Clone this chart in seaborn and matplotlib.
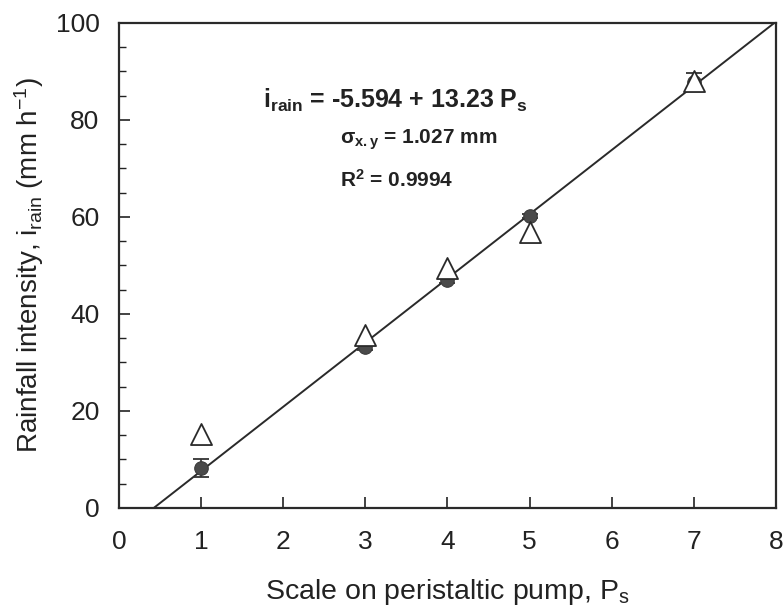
import numpy as np
import pandas as pd
import seaborn as sns
import matplotlib.pyplot as plt
from matplotlib.ticker import MultipleLocator

sns.set_theme(style="ticks")
plt.rcParams['font.family'] = ['Liberation Sans', 'DejaVu Sans']
plt.rcParams['mathtext.fontset'] = 'custom'
plt.rcParams['mathtext.rm'] = 'Liberation Sans'
plt.rcParams['mathtext.it'] = 'Liberation Sans'
plt.rcParams['mathtext.bf'] = 'Liberation Sans:bold'

scale_circle = [1, 3, 4, 5, 7]
rain_circle = [8.2, 33.2, 47.0, 60.2, 87.9]
err_circle = [1.9, 0.6, 0.6, 0.5, 1.8]
scale_tri = [1, 3, 4, 5, 7]
rain_tri = [15.2, 35.6, 49.5, 56.8, 88.0]
intercept = -5.594
slope = 13.23
fit_x = [-intercept / slope, 8.0]

df_c = pd.DataFrame({"x": scale_circle, "y": rain_circle})
df_t = pd.DataFrame({"x": scale_tri, "y": rain_tri})
df_fit = pd.DataFrame({"x": fit_x, "y": [intercept + slope * v for v in fit_x]})

fig = plt.figure(figsize=(7.83, 6.11), dpi=100)
ax = fig.add_axes([0.152, 0.1686, 0.839, 0.794])

sns.lineplot(data=df_fit, x="x", y="y", ax=ax, color="#2a2a2a", lw=1.4)
ax.errorbar(scale_circle, rain_circle, yerr=err_circle, fmt="none",
            ecolor="#333333", elinewidth=1.2, capsize=6, capthick=1.3)
sns.scatterplot(data=df_c, x="x", y="y", ax=ax, marker="o", s=95,
                color="#4a4a4a", edgecolor="#3a3a3a", zorder=5)
sns.scatterplot(data=df_t, x="x", y="y", ax=ax, marker="^", s=230,
                facecolor="white", edgecolor="#2a2a2a", linewidth=1.3, zorder=6)

ax.set_xlim(0, 8)
ax.set_ylim(0, 100)
ax.xaxis.set_major_locator(MultipleLocator(1))
ax.yaxis.set_major_locator(MultipleLocator(20))
ax.yaxis.set_minor_locator(MultipleLocator(5))
ax.tick_params(axis="both", which="both", direction="in", top=False, right=False,
               labelsize=19, colors="#222222")
ax.tick_params(axis="x", pad=15.5)
ax.tick_params(axis="y", pad=14)
ax.tick_params(which="major", length=8, width=1.2)
ax.tick_params(which="minor", length=5, width=1.0)
for s in ax.spines.values():
    s.set_linewidth(1.6)
    s.set_color("#2a2a2a")

ax.set_xlabel("Scale on peristaltic pump, P$_\\mathrm{s}$", fontsize=20.5, labelpad=17, color="#222222")
ax.set_ylabel("Rainfall intensity, i$_\\mathrm{rain}$ (mm h$^{\\mathrm{-1}}$)", fontsize=20,
              labelpad=7, color="#222222")

ax.text(1.753, 84.1, "i$_\\mathbf{rain}$ = -5.594 + 13.23 P$_\\mathbf{s}$", fontsize=18,
        fontweight="bold", color="#222222", ha="left", va="center")
ax.text(2.69, 75.9, "σ$_\\mathbf{x.y}$ = 1.027 mm", fontsize=15, fontweight="bold",
        color="#222222", ha="left", va="center")
ax.text(2.69, 67.6, "R$^\\mathbf{2}$ = 0.9994", fontsize=15, fontweight="bold",
        color="#222222", ha="left", va="center")

fig.savefig("out.png", dpi=100)
